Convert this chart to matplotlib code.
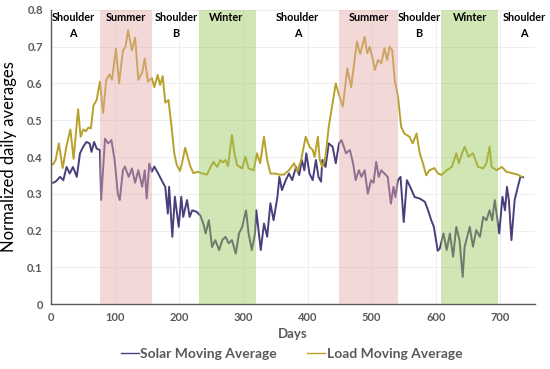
import matplotlib
matplotlib.use("Agg")
import matplotlib.pyplot as plt
from matplotlib.lines import Line2D

plt.rcParams["font.family"] = ["Lato", "DejaVu Sans"]

# ---- data ----
load_days = [3, 7, 12, 18, 24, 30, 35, 42, 46, 50, 54, 58, 62, 66, 71, 76, 81, 86, 91, 95,
             101, 106, 112, 116, 120, 126, 131, 136, 142, 146, 151, 157, 161, 166, 170, 174,
             178, 183, 188, 192, 196, 201, 205, 209, 213, 217, 222, 229, 236, 243, 248, 253,
             259, 264, 268, 272, 276, 282, 286, 290, 298, 303, 308, 316, 321, 326, 332, 337,
             342, 350, 356, 363, 371, 379, 384, 390, 397, 403, 408, 411, 416, 419, 423, 428,
             433, 439, 444, 449, 455, 462, 468, 473, 477, 482, 489, 493, 497, 502, 505, 510,
             515, 520, 524, 528, 532, 536, 541, 546, 551, 559, 564, 570, 575, 580, 585, 590,
             598, 603, 609, 617, 625, 632, 636, 641, 645, 651, 658, 666, 674, 679, 684, 687,
             695, 703, 710, 721, 728, 734]
load_vals = [0.38, 0.392, 0.437, 0.37, 0.43, 0.475, 0.395, 0.53, 0.455, 0.475, 0.47, 0.48,
             0.478, 0.54, 0.555, 0.605, 0.52, 0.61, 0.625, 0.61, 0.695, 0.60, 0.69, 0.70,
             0.745, 0.69, 0.725, 0.61, 0.63, 0.668, 0.605, 0.615, 0.59, 0.623, 0.596, 0.62,
             0.548, 0.555, 0.48, 0.41, 0.378, 0.362, 0.39, 0.425, 0.40, 0.375, 0.356, 0.36,
             0.355, 0.352, 0.37, 0.387, 0.373, 0.392, 0.385, 0.392, 0.375, 0.46, 0.41, 0.378,
             0.369, 0.401, 0.369, 0.364, 0.41, 0.383, 0.455, 0.392, 0.355, 0.355, 0.352, 0.352,
             0.364, 0.383, 0.36, 0.392, 0.455, 0.428, 0.419, 0.40, 0.455, 0.392, 0.373, 0.401,
             0.482, 0.546, 0.60, 0.569, 0.537, 0.641, 0.59, 0.66, 0.714, 0.68, 0.727, 0.682,
             0.70, 0.664, 0.637, 0.664, 0.655, 0.696, 0.664, 0.70, 0.691, 0.609, 0.564, 0.482,
             0.464, 0.455, 0.437, 0.464, 0.41, 0.383, 0.35, 0.364, 0.37, 0.356, 0.351, 0.364,
             0.373, 0.41, 0.383, 0.41, 0.428, 0.401, 0.41, 0.373, 0.369, 0.383, 0.428, 0.373,
             0.364, 0.373, 0.36, 0.355, 0.352, 0.346]

solar_days = [3, 7, 14, 19, 24, 29, 34, 40, 45, 50, 55, 60, 63, 67, 71, 76, 78, 84, 89, 94,
              99, 104, 107, 112, 115, 121, 126, 131, 136, 142, 146, 149, 153, 157, 161, 167,
              175, 178, 182, 184, 189, 193, 199, 203, 206, 212, 216, 220, 227, 233, 238, 241,
              246, 251, 256, 262, 267, 272, 277, 282, 288, 293, 298, 304, 308, 313, 318, 320,
              327, 332, 337, 342, 347, 353, 356, 360, 366, 371, 376, 382, 387, 391, 395, 398,
              403, 408, 413, 417, 421, 423, 428, 433, 439, 444, 449, 453, 460, 466, 471, 475,
              480, 484, 489, 494, 499, 503, 507, 511, 515, 520, 525, 530, 534, 537, 541, 545,
              550, 555, 560, 567, 575, 583, 588, 593, 597, 603, 606, 612, 617, 622, 627, 632,
              637, 642, 645, 653, 658, 663, 669, 674, 679, 684, 688, 692, 699, 704, 708, 711,
              714, 718, 723, 728, 732, 736]
solar_vals = [0.33, 0.333, 0.346, 0.337, 0.373, 0.355, 0.373, 0.346, 0.41, 0.428, 0.441,
              0.437, 0.414, 0.441, 0.423, 0.419, 0.283, 0.45, 0.437, 0.446, 0.392, 0.30, 0.283,
              0.364, 0.374, 0.346, 0.369, 0.33, 0.364, 0.319, 0.364, 0.287, 0.382, 0.36, 0.374,
              0.355, 0.328, 0.319, 0.246, 0.319, 0.183, 0.292, 0.21, 0.292, 0.237, 0.283, 0.237,
              0.255, 0.251, 0.24, 0.215, 0.192, 0.228, 0.155, 0.174, 0.147, 0.174, 0.183, 0.165,
              0.174, 0.137, 0.192, 0.21, 0.255, 0.192, 0.147, 0.192, 0.255, 0.147, 0.219, 0.183,
              0.274, 0.228, 0.292, 0.346, 0.31, 0.337, 0.355, 0.337, 0.373, 0.351, 0.392, 0.364,
              0.41, 0.355, 0.337, 0.392, 0.346, 0.333, 0.392, 0.373, 0.437, 0.428, 0.383, 0.437,
              0.446, 0.41, 0.419, 0.383, 0.337, 0.364, 0.346, 0.364, 0.30, 0.337, 0.33, 0.387,
              0.346, 0.364, 0.355, 0.346, 0.273, 0.319, 0.291, 0.337, 0.346, 0.223, 0.337,
              0.319, 0.291, 0.287, 0.278, 0.255, 0.228, 0.21, 0.145, 0.15, 0.192, 0.147, 0.192,
              0.129, 0.21, 0.174, 0.074, 0.156, 0.21, 0.156, 0.201, 0.183, 0.237, 0.228, 0.255,
              0.228, 0.283, 0.192, 0.292, 0.255, 0.319, 0.283, 0.174, 0.283, 0.319, 0.346, 0.345]

summer_spans = [(76, 157), (449, 541)]
winter_spans = [(231, 320), (608, 697)]
season_names = ["Shoulder\nA", "Summer", "Shoulder\nB", "Winter", "Shoulder\nA",
                "Summer", "Shoulder\nB", "Winter", "Shoulder\nA"]
season_x = [34, 117, 195, 273, 384, 496, 574, 654, 738]

SOLAR = "#4a3f7d"
LOAD = "#b8a12a"
TICK = "#595959"

fig = plt.figure(figsize=(5.5, 3.69), dpi=100)
ax = fig.add_axes([0.093, 0.176, 0.88, 0.797])

ax.plot(solar_days, solar_vals, color=SOLAR, lw=1.4, zorder=2)
ax.plot(load_days, load_vals, color=LOAD, lw=1.4, zorder=2)
for a, b in summer_spans:
    ax.axvspan(a, b, color="#e6aaaa", alpha=0.45, lw=0, zorder=3)
for a, b in winter_spans:
    ax.axvspan(a, b, color="#97c859", alpha=0.45, lw=0, zorder=3)

for name, x in zip(season_names, season_x):
    ax.text(x, 0.795, name, ha="center", va="top", fontsize=7.8, fontweight="bold",
            color="black", linespacing=1.55, zorder=4, clip_on=False)

ax.set_xlim(0, 755)
ax.set_ylim(0, 0.8)
ax.set_xticks(range(0, 800, 100))
ax.set_yticks([0, 0.1, 0.2, 0.3, 0.4, 0.5, 0.6, 0.7, 0.8])
ax.set_yticklabels(["0", "0.1", "0.2", "0.3", "0.4", "0.5", "0.6", "0.7", "0.8"])
ax.tick_params(length=0, labelsize=8, labelcolor=TICK, pad=6)
for lab in ax.get_xticklabels() + ax.get_yticklabels():
    lab.set_fontweight("bold")
ax.grid(True, color="#eeeeee", lw=0.7, zorder=0)
ax.set_axisbelow(True)
for s in ["top", "right"]:
    ax.spines[s].set_visible(False)
for s in ["left", "bottom"]:
    ax.spines[s].set_color("#595959")
    ax.spines[s].set_linewidth(1.0)

ax.set_xlabel("Days", fontsize=9.5, fontweight="bold", color=TICK, labelpad=3)
ax.set_ylabel("Normalized daily averages", fontsize=12, color="black", labelpad=7)

handles = [Line2D([], [], color=SOLAR, lw=1.0), Line2D([], [], color=LOAD, lw=1.0)]
fig.legend(handles, ["Solar Moving Average", "Load Moving Average"], loc="center",
           bbox_to_anchor=(0.53, 0.04), ncol=2, frameon=False, handlelength=1.3,
           handletextpad=0.1, columnspacing=2.2,
           prop={"size": 10, "weight": "bold"}, labelcolor=TICK)

fig.savefig("out.png", dpi=100)
